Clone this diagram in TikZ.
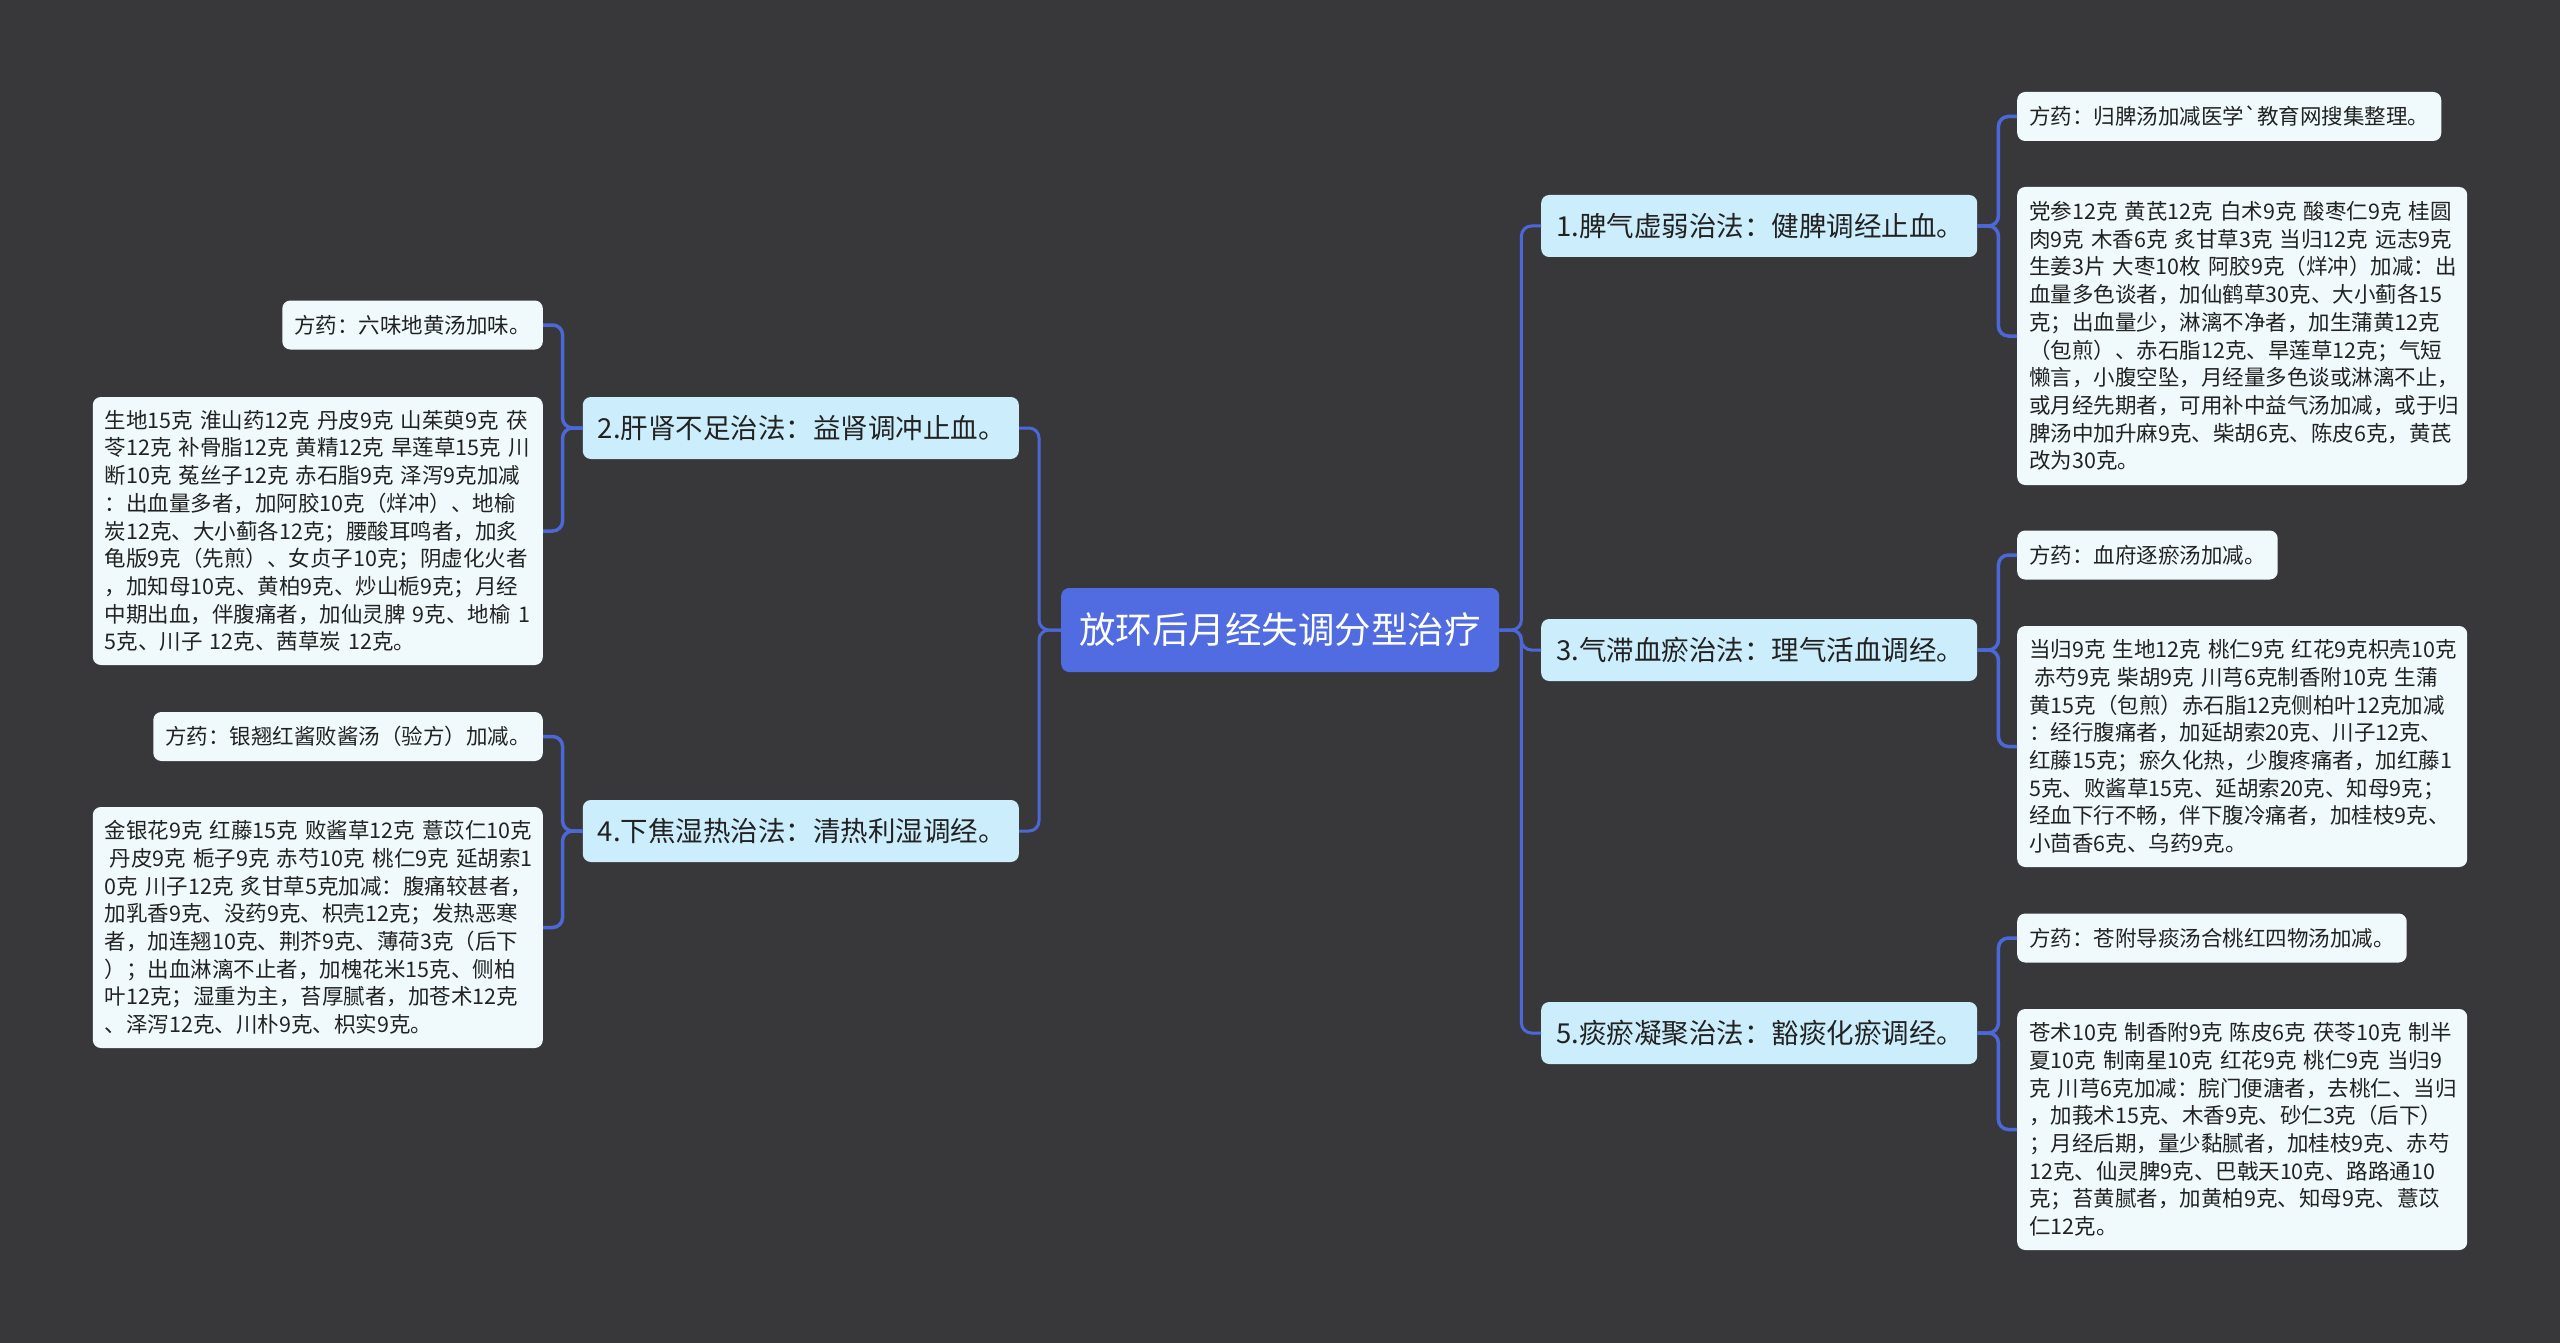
\documentclass[tikz,border=0pt]{standalone}
\usepackage{fontspec}
\setmainfont{Noto Sans CJK SC}
\newfontfamily\rawcjk{Noto Sans CJK SC}
\definecolor{bgc}{RGB}{56,56,58}
\definecolor{rootc}{RGB}{80,108,224}
\definecolor{mainc}{RGB}{204,238,252}
\definecolor{leafc}{RGB}{240,250,252}
\definecolor{linec}{RGB}{76,104,216}
\definecolor{txtc}{RGB}{34,34,34}
\tikzset{
  rootbox/.style={fill=rootc, rounded corners=8pt, text=white, minimum width=438pt, minimum height=84pt, inner sep=0pt, font=\fontsize{36.5}{40}\selectfont},
  mainbox/.style={fill=mainc, rounded corners=8pt, text=txtc, text width=406pt, align=left, minimum height=62pt, inner xsep=15pt, inner ysep=0pt, font=\fontsize{27.5}{30}\selectfont},
  tipbox/.style={fill=leafc, rounded corners=8pt, text=txtc, minimum height=49pt, inner xsep=12pt, inner ysep=0pt, font=\fontsize{21.5}{27.7}\selectfont},
  textbox/.style={fill=leafc, rounded corners=8pt, text=txtc, text width=426pt, align=left, inner xsep=12pt, inner ysep=0pt, font=\fontsize{21.5}{27.7}\selectfont},
  conn/.style={draw=linec, line width=3pt, rounded corners=10pt},
  conn2/.style={draw=linec, line width=3.5pt, rounded corners=10pt}
}
\begin{document}
\begin{tikzpicture}[x=1pt,y=-1pt]
\fill[bgc] (0,0) rectangle (2560,1343);
\useasboundingbox (0,0) rectangle (2560,1343);

% root
\node[rootbox, anchor=west] (root) at (1061,630) {放环后月经失调分型治疗};

% main nodes
\node[mainbox, anchor=west] (n1) at (1541,226) {1.脾气虚弱治法：健脾调经止血。};
\node[mainbox, anchor=west] (n3) at (1541,650) {3.气滞血瘀治法：理气活血调经。};
\node[mainbox, anchor=west] (n5) at (1541,1033) {5.痰瘀凝聚治法：豁痰化瘀调经。};
\node[mainbox, anchor=east] (n2) at (1019,428) {2.肝肾不足治法：益肾调冲止血。};
\node[mainbox, anchor=east] (n4) at (1019,831) {4.下焦湿热治法：清热利湿调经。};

% leaves right
\node[tipbox, anchor=west] (l1a) at (2017,116.5) {方药：归脾汤加减医学{\rawcjk `}教育网搜集整理。};
\node[textbox, anchor=west, minimum height=298pt] (l1b) at (2017,336) {党参12克~黄芪12克~白术9克~酸枣仁9克~桂圆\\
肉9克~木香6克~炙甘草3克~当归12克~远志9克\\
生姜3片~大枣10枚~阿胶9克（烊冲）加减：出\\
血量多色谈者，加仙鹤草30克、大小蓟各15\\
克；出血量少，淋漓不净者，加生蒲黄12克\\
（包煎）、赤石脂12克、旱莲草12克；气短\\
懒言，小腹空坠，月经量多色谈或淋漓不止，\\
或月经先期者，可用补中益气汤加减，或于归\\
脾汤中加升麻9克、柴胡6克、陈皮6克，黄芪\\
改为30克。};

\node[tipbox, anchor=west] (l3a) at (2017,555) {方药：血府逐瘀汤加减。};
\node[textbox, anchor=west, minimum height=241pt] (l3b) at (2017,746.5) {当归9克~生地12克~桃仁9克~红花9克枳壳10克\\
\hspace*{5pt}赤芍9克~柴胡9克~川芎6克制香附10克~生蒲\\
黄15克（包煎）赤石脂12克侧柏叶12克加减\\
：经行腹痛者，加延胡索20克、川子12克、\\
红藤15克；瘀久化热，少腹疼痛者，加红藤1\\
5克、败酱草15克、延胡索20克、知母9克；\\
经血下行不畅，伴下腹冷痛者，加桂枝9克、\\
小茴香6克、乌药9克。};

\node[tipbox, anchor=west] (l5a) at (2017,938) {方药：苍附导痰汤合桃红四物汤加减。};
\node[textbox, anchor=west, minimum height=241pt] (l5b) at (2017,1129.5) {苍术10克~制香附9克~陈皮6克~茯苓10克~制半\\
夏10克~制南星10克~红花9克~桃仁9克~当归9\\
克~川芎6克加减：脘门便溏者，去桃仁、当归\\
，加莪术15克、木香9克、砂仁3克（后下）\\
；月经后期，量少黏腻者，加桂枝9克、赤芍\\
12克、仙灵脾9克、巴戟天10克、路路通10\\
克；苔黄腻者，加黄柏9克、知母9克、薏苡\\
仁12克。};

% leaves left
\node[tipbox, anchor=east] (l2a) at (543,325) {方药：六味地黄汤加味。};
\node[textbox, anchor=east, minimum height=268pt] (l2b) at (543,531) {生地15克~淮山药12克~丹皮9克~山茱萸9克~茯\\
苓12克~补骨脂12克~黄精12克~旱莲草15克~川\\
断10克~菟丝子12克~赤石脂9克~泽泻9克加减\\
：出血量多者，加阿胶10克（烊冲）、地榆\\
炭12克、大小蓟各12克；腰酸耳鸣者，加炙\\
龟版9克（先煎）、女贞子10克；阴虚化火者\\
，加知母10克、黄柏9克、炒山栀9克；月经\\
中期出血，伴腹痛者，加仙灵脾~9克、地榆~1\\
5克、川子~12克、茜草炭~12克。};

\node[tipbox, anchor=east] (l4a) at (543,736.5) {方药：银翘红酱败酱汤（验方）加减。};
\node[textbox, anchor=east, minimum height=241pt] (l4b) at (543,927.5) {金银花9克~红藤15克~败酱草12克~薏苡仁10克\\
\hspace*{5pt}丹皮9克~栀子9克~赤芍10克~桃仁9克~延胡索1\\
0克~川子12克~炙甘草5克加减：腹痛较甚者，\\
加乳香9克、没药9克、枳壳12克；发热恶寒\\
者，加连翘10克、荆芥9克、薄荷3克（后下\\
）；出血淋漓不止者，加槐花米15克、侧柏\\
叶12克；湿重为主，苔厚腻者，加苍术12克\\
、泽泻12克、川朴9克、枳实9克。};

% connectors root
\foreach \c in {n1,n3,n5} \draw[conn] (root.east) -- ++(22,0) |- (\c.west);
\foreach \c in {n2,n4} \draw[conn] (root.west) -- ++(-22,0) |- (\c.east);

% connectors to leaves
\draw[conn2] (n1.east) -- ++(21,0) |- (l1a.west);
\draw[conn2] (n1.east) -- ++(21,0) |- (l1b.west);
\draw[conn2] (n3.east) -- ++(21,0) |- (l3a.west);
\draw[conn2] (n3.east) -- ++(21,0) |- (l3b.west);
\draw[conn2] (n5.east) -- ++(21,0) |- (l5a.west);
\draw[conn2] (n5.east) -- ++(21,0) |- (l5b.west);
\draw[conn2] (n2.west) -- ++(-20,0) |- (l2a.east);
\draw[conn2] (n2.west) -- ++(-20,0) |- (l2b.east);
\draw[conn2] (n4.west) -- ++(-20,0) |- (l4a.east);
\draw[conn2] (n4.west) -- ++(-20,0) |- (l4b.east);
\end{tikzpicture}
\end{document}
